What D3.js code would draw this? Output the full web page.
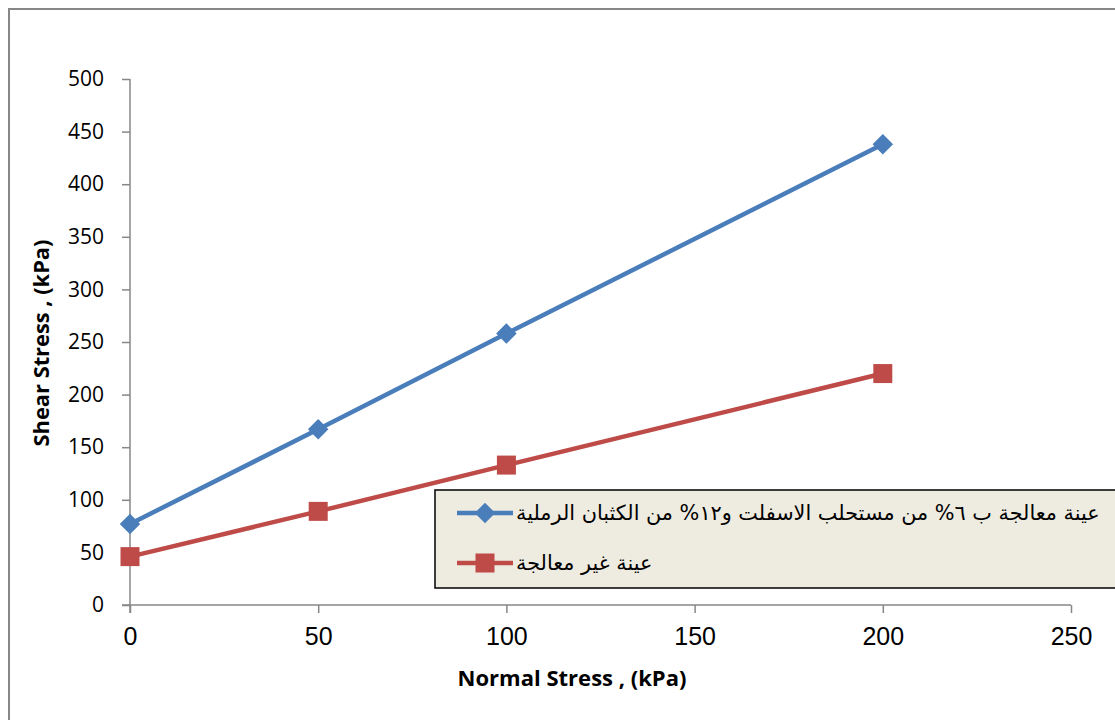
<!DOCTYPE html>
<html><head><meta charset="utf-8">
<script src="https://cdn.jsdelivr.net/npm/d3@7"></script>
<style>html,body{margin:0;padding:0;background:#fff;}svg{display:block;}</style>
</head><body>
<svg id="c" width="1115" height="720"></svg>
<script>
const normalStress = [0, 50, 100, 200];
const treated = [77, 167, 258, 438];
const untreated = [46, 89, 133, 220];
const xTicks = [0, 50, 100, 150, 200, 250];
const yTicks = [0, 50, 100, 150, 200, 250, 300, 350, 400, 450, 500];
const seriesNames = ["عينة معالجة ب ٦% من مستحلب الاسفلت و١٢% من الكثبان الرملية", "عينة غير معالجة"];
const xTitle = "Normal Stress , (kPa)";
const yTitle = "Shear Stress , (kPa)";

const svg = d3.select("#c");
svg.append("rect").attr("x", 9).attr("y", 9).attr("width", 1300).attr("height", 900)
  .attr("fill", "none").attr("stroke", "#878787").attr("stroke-width", 2);

const x = d3.scaleLinear().domain([0, 250]).range([130, 1071]);
const y = d3.scaleLinear().domain([0, 500]).range([605, 79]);
const axisCol = "#878787";

// x axis
const gx = svg.append("g").attr("transform", "translate(0,605)")
  .call(d3.axisBottom(x).tickValues(xTicks).tickSize(8).tickSizeOuter(0).tickPadding(14));
gx.select(".domain").remove();
gx.append("line").attr("x1", 122).attr("x2", 1071).attr("stroke", axisCol).attr("stroke-width", 1.5);
gx.selectAll(".tick line").attr("stroke", axisCol).attr("stroke-width", 1.5);
gx.selectAll(".tick text").attr("font-family", "'Liberation Sans', Arial, sans-serif")
  .attr("font-size", 25).attr("fill", "#000");

// y axis
const gy = svg.append("g").attr("transform", "translate(130,0)")
  .call(d3.axisLeft(y).tickValues(yTicks).tickSize(8).tickSizeOuter(0).tickPadding(18));
gy.select(".domain").remove();
gy.append("line").attr("y1", 79).attr("y2", 613).attr("stroke", axisCol).attr("stroke-width", 1.5);
gy.selectAll(".tick line").attr("stroke", axisCol).attr("stroke-width", 1.5);
gy.selectAll(".tick text").attr("font-family", "'Open Sans', sans-serif")
  .attr("font-size", 21).attr("fill", "#000");

function fitFont(sel, target) {
  const w = sel.node().getComputedTextLength();
  const fs = parseFloat(sel.attr("font-size"));
  sel.attr("font-size", fs * target / w);
}

const xt = svg.append("text").attr("x", 572).attr("y", 686).attr("text-anchor", "middle")
  .attr("font-family", "'Open Sans', sans-serif").attr("font-weight", "bold").attr("font-size", 20)
  .text(xTitle);
fitFont(xt, 229);
const yt = svg.append("text").attr("transform", "translate(49,343) rotate(-90)").attr("text-anchor", "middle")
  .attr("font-family", "'Open Sans', sans-serif").attr("font-weight", "bold").attr("font-size", 20)
  .text(yTitle);
fitFont(yt, 207);

const colors = ["#4A7EBB", "#BE4B48"];
const data = [treated, untreated];
const line = d3.line().x((d, i) => x(normalStress[i])).y(d => y(d));

data.forEach((s, k) => {
  svg.append("path").datum(s).attr("d", line).attr("fill", "none")
    .attr("stroke", colors[k]).attr("stroke-width", 4.5).attr("stroke-linejoin", "round");
});

const diamond = d3.symbol().type(d3.symbolSquare).size(210);
const square = d3.symbol().type(d3.symbolSquare).size(361);
svg.selectAll(".m0").data(treated).enter().append("path")
  .attr("d", diamond).attr("fill", colors[0])
  .attr("transform", (d, i) => `translate(${x(normalStress[i])},${y(d)}) rotate(45)`);
svg.selectAll(".m1").data(untreated).enter().append("path")
  .attr("d", square).attr("fill", colors[1])
  .attr("transform", (d, i) => `translate(${x(normalStress[i])},${y(d)})`);

// legend
const lg = svg.append("g");
lg.append("rect").attr("x", 435).attr("y", 490).attr("width", 720).attr("height", 98)
  .attr("fill", "#EEECE1").attr("stroke", "#000").attr("stroke-width", 1.5);
const ly = [513, 563];
ly.forEach((yy, k) => {
  lg.append("line").attr("x1", 457).attr("x2", 513).attr("y1", yy).attr("y2", yy)
    .attr("stroke", colors[k]).attr("stroke-width", 4.5);
  lg.append("path").attr("d", k === 0 ? diamond : square).attr("fill", colors[k])
    .attr("transform", k === 0 ? `translate(485,${yy}) rotate(45)` : `translate(485,${yy})`);
});
const t0 = lg.append("text").attr("x", 516).attr("y", 520)
  .attr("font-family", "'DejaVu Sans', sans-serif").attr("font-size", 20).text(seriesNames[0]);
fitFont(t0, 584);
const fs = t0.attr("font-size");
lg.append("text").attr("x", 516).attr("y", 570)
  .attr("font-family", "'DejaVu Sans', sans-serif").attr("font-size", fs).text(seriesNames[1]);
</script>
</body></html>
